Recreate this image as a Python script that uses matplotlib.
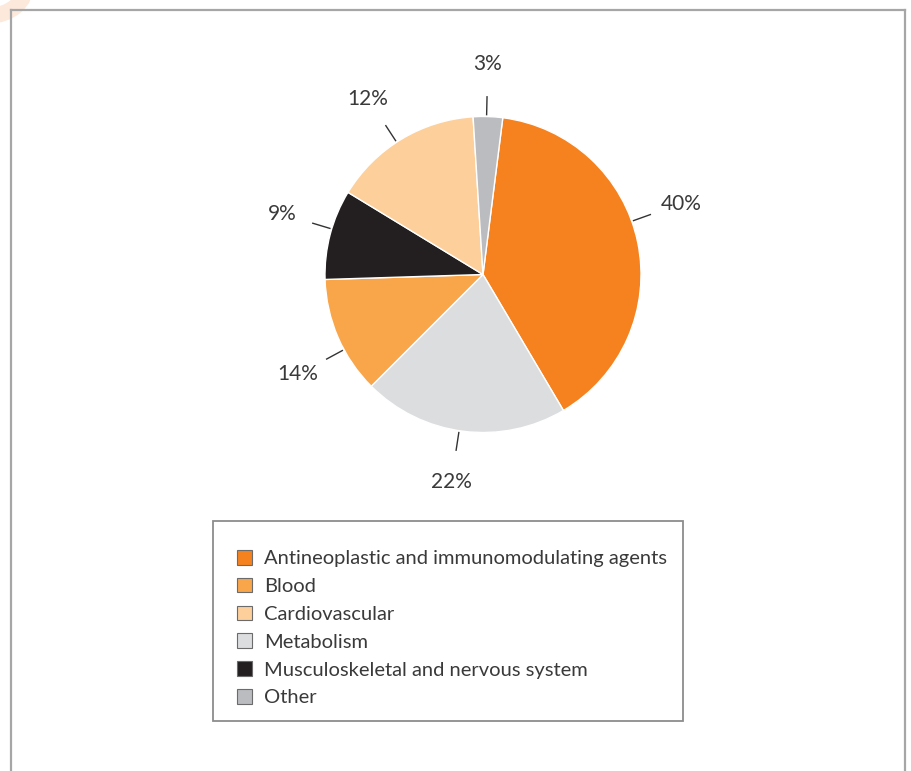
import numpy as np
import matplotlib
matplotlib.use('Agg')
import matplotlib.pyplot as plt
from matplotlib.patches import Patch, Rectangle, Circle
from matplotlib.lines import Line2D

plt.rcParams['font.family'] = ['Lato', 'DejaVu Sans']

# slices in drawing order (clockwise from the top)
slice_names = ['Antineoplastic and immunomodulating agents', 'Metabolism', 'Blood',
               'Musculoskeletal and nervous system', 'Cardiovascular', 'Other']
slice_values = [39.5, 21, 12, 9.2, 15.3, 3]
slice_labels = ['40%', '22%', '14%', '9%', '12%', '3%']
slice_colors = ['#f5821f', '#dcdddf', '#f9a54a', '#231f20', '#fdcf9b', '#bbbcbf']

# legend order
legend_names = ['Antineoplastic and immunomodulating agents', 'Blood', 'Cardiovascular',
                'Metabolism', 'Musculoskeletal and nervous system', 'Other']

# small angular nudges (deg, clockwise) of the label leaders off the slice middles
label_nudge = [-8, 1.5, -5, 2, -2, -0.5]

W, H = 912, 771
TXT = '#3a3a3a'
fig = plt.figure(figsize=(W / 100, H / 100), dpi=100)

# decorative frame + faint ring in the corner
fig.add_artist(Circle((-10 / W, 1 + 15 / H), 36 / W, transform=fig.transFigure,
                      facecolor='none', edgecolor='#fde9dc', lw=11.5))
for xs, ys in [([11, 11], [771, 10]), ([11, 905], [10, 10]), ([905, 905], [10, 771])]:
    fig.add_artist(Line2D([x / W for x in xs], [1 - y / H for y in ys],
                          transform=fig.transFigure, color='#a6a6a6', lw=1.6))

# pie axes: centre (483, 274.5) px, radius 158 px
R = 158
half = 1.6 * R
cx, cy = 483, 274.5
ax = fig.add_axes([(cx - half) / W, (H - cy - half) / H, 2 * half / W, 2 * half / H])

wedges, _ = ax.pie(slice_values, colors=slice_colors, startangle=82.8, counterclock=False,
                   wedgeprops=dict(edgecolor='white', linewidth=1))
ax.set_xlim(-1.6, 1.6)
ax.set_ylim(-1.6, 1.6)
ax.axis('off')

for w, lab, nd in zip(wedges, slice_labels, label_nudge):
    ang = np.deg2rad((w.theta1 + w.theta2) / 2 - nd)
    c, s = np.cos(ang), np.sin(ang)
    ax.plot([1.012 * c, 1.125 * c], [1.012 * s, 1.125 * s], color='#333333', lw=1, clip_on=False)
    ax.text(1.33 * c, 1.33 * s, lab, ha='center', va='center', fontsize=15,
            color=TXT, clip_on=False)

# legend box
fig.add_artist(Rectangle((213 / W, 1 - 721 / H), 470 / W, 200 / H, transform=fig.transFigure,
                         facecolor='none', edgecolor='#8c8c8c', lw=1.3))
col = dict(zip(slice_names, slice_colors))
handles = [Patch(facecolor=col[n], edgecolor='#6b6b6b', lw=0.8) for n in legend_names]
leg = fig.legend(handles, legend_names, loc='upper left', bbox_to_anchor=(237 / W, 1 - 550 / H),
                 frameon=False, fontsize=14.5, handlelength=0.74, handleheight=0.74,
                 handletextpad=0.62, labelspacing=0.52, borderaxespad=0, borderpad=0)
for t in leg.get_texts():
    t.set_color(TXT)

fig.savefig('out.png', dpi=100)
